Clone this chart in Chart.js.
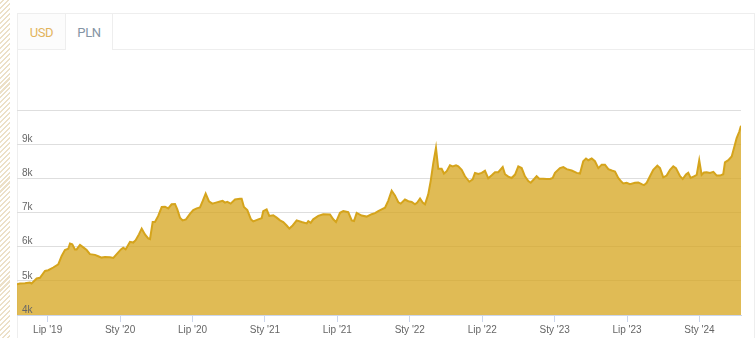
<!DOCTYPE html>
<html>
<head>
<meta charset="utf-8">
<script src="https://cdn.jsdelivr.net/npm/chart.js@4.4.0/dist/chart.umd.min.js"></script>
<style>
  html, body { margin:0; padding:0; background:#fff; width:756px; height:338px; overflow:hidden; font-family:Roboto, Arial, sans-serif; }
  .hatch { position:absolute; left:0; top:0; width:10px; height:338px;
           background:repeating-linear-gradient(135deg, #fff 0, #fff 2px, #ece0c8 2px, #ece0c8 3.5px); }
  .card { position:absolute; left:17px; top:13px; width:736px; height:340px; border:1px solid #eee; border-bottom:none; }
  .tabs { display:flex; height:36px; }
  .tab { box-sizing:border-box; height:36px; line-height:37px; font-size:13px; letter-spacing:-0.4px; text-align:center; border-right:1px solid #eee; }
  .tab.usd { width:48px; color:#e3b45c; border-bottom:1px solid #eee; background:#fcfcfc; }
  .tab.pln { width:47px; color:#8494a4; }
  .tab.rest { flex:1; border-right:none; border-bottom:1px solid #eee; }
  .wrap { position:absolute; left:17px; top:50px; width:737px; height:288px; }
</style>
</head>
<body>
<div class="hatch"></div>
<div class="card">
  <div class="tabs">
    <div class="tab usd">USD</div>
    <div class="tab pln">PLN</div>
    <div class="tab rest"></div>
  </div>
</div>
<div class="wrap"><canvas id="goldChart"></canvas></div>

<script>
// x = months since Jan 2019 (6 = Jul '19, 12 = Jan '20 ...), y = price in PLN
const months = [
  3.46, 3.70, 4.12, 4.53, 4.67, 5.09, 5.36, 5.78, 6.05, 6.46,
  6.88, 7.16, 7.43, 7.71, 7.85, 8.04, 8.26, 8.40, 8.68, 8.95,
  9.23, 9.50, 9.92, 10.19, 10.47, 10.75, 11.16, 11.44, 11.72, 12.07,
  12.26, 12.46, 12.82, 13.09, 13.29, 13.56, 13.79, 14.06, 14.33, 14.48,
  14.70, 14.89, 15.16, 15.45, 15.72, 15.99, 16.27, 16.55, 16.74, 16.96,
  17.18, 17.46, 17.79, 18.06, 18.35, 18.62, 18.84, 19.09, 19.36, 19.64,
  19.94, 20.28, 20.50, 20.69, 20.88, 21.16, 21.52, 21.93, 22.07, 22.26,
  22.54, 22.84, 23.03, 23.45, 23.73, 23.86, 24.14, 24.36, 24.69, 24.97,
  25.25, 25.52, 25.80, 26.02, 26.30, 26.63, 27.04, 27.46, 27.59, 27.79,
  28.00, 28.42, 28.83, 29.39, 29.66, 29.89, 30.22, 30.49, 30.90, 31.19,
  31.38, 31.60, 32.01, 32.43, 32.84, 33.12, 33.39, 33.67, 33.95, 34.22,
  34.50, 34.77, 35.05, 35.25, 35.60, 35.88, 36.16, 36.43, 36.62, 36.85,
  37.07, 37.26, 37.53, 37.73, 37.95, 38.17, 38.36, 38.64, 38.83, 39.06,
  39.33, 39.55, 39.83, 40.02, 40.30, 40.57, 40.93, 41.21, 41.40, 41.68,
  41.96, 42.23, 42.50, 42.79, 43.06, 43.33, 43.70, 43.89, 44.16, 44.44,
  44.72, 44.99, 45.27, 45.54, 45.82, 46.02, 46.23, 46.51, 46.73, 47.06,
  47.34, 47.62, 47.84, 48.03, 48.44, 48.72, 49.00, 49.41, 49.83, 50.10,
  50.37, 50.60, 50.79, 51.07, 51.34, 51.62, 51.90, 52.17, 52.45, 52.73,
  53.00, 53.27, 53.56, 53.69, 53.97, 54.24, 54.66, 54.93, 55.21, 55.40,
  55.63, 55.90, 56.17, 56.51, 56.73, 57.00, 57.28, 57.56, 57.83, 58.05,
  58.39, 58.61, 58.88, 59.07, 59.27, 59.55, 59.77, 59.98, 60.18, 60.37,
  60.60, 60.87, 61.15, 61.43, 61.70, 61.97, 62.11, 62.39, 62.67, 62.86,
  63.08, 63.30, 63.44
];
const pricesPln = [
  4900, 4920, 4930, 4950, 4920, 5070, 5090, 5290, 5310, 5390,
  5480, 5730, 5900, 5940, 6090, 6070, 5920, 5920, 6050, 5980,
  5900, 5780, 5760, 5720, 5680, 5700, 5690, 5670, 5780, 5920,
  5970, 5920, 6140, 6120, 6190, 6360, 6530, 6360, 6240, 6220,
  6720, 6720, 6900, 7160, 7170, 7120, 7240, 7250, 7090, 6850,
  6770, 6800, 6960, 7070, 7120, 7150, 7330, 7550, 7330, 7260,
  7290, 7320, 7340, 7290, 7310, 7260, 7380, 7400, 7400, 7160,
  7070, 6800, 6740, 6800, 6830, 7040, 7090, 6900, 6920, 6850,
  6770, 6720, 6620, 6530, 6620, 6770, 6720, 6680, 6750, 6700,
  6800, 6900, 6950, 6940, 6800, 6720, 6990, 7040, 7010, 6770,
  6750, 6990, 6910, 6880, 6950, 6980, 7040, 7090, 7140, 7350,
  7640, 7500, 7300, 7260, 7380, 7330, 7310, 7240, 7290, 7410,
  7290, 7240, 7530, 7920, 8450, 8890, 8280, 8280, 8140, 8210,
  8380, 8350, 8380, 8350, 8250, 8060, 7900, 7970, 8160, 8130,
  8160, 8220, 8000, 8090, 8180, 8180, 8330, 8120, 8050, 8010,
  8110, 8350, 8300, 8060, 7920, 7870, 7950, 8060, 7990, 7990,
  7980, 7980, 8010, 8160, 8300, 8330, 8270, 8230, 8160, 8140,
  8500, 8580, 8530, 8580, 8500, 8300, 8400, 8400, 8270, 8230,
  8200, 8010, 7890, 7850, 7870, 7830, 7870, 7880, 7830, 7800,
  7870, 8060, 8250, 8370, 8300, 8030, 8080, 8250, 8350, 8300,
  8060, 7980, 8110, 8160, 8010, 8060, 8100, 8530, 8100, 8170,
  8180, 8160, 8190, 8080, 8080, 8120, 8470, 8530, 8640, 8890,
  9180, 9370, 9540
];
const tickMonths = [6, 12, 18, 24, 30, 36, 42, 48, 54, 60];
const tickLabels = ["Lip '19", "Sty '20", "Lip '20", "Sty '21", "Lip '21", "Sty '22", "Lip '22", "Sty '23", "Lip '23", "Sty '24"];

const axisFont = { family: "'Liberation Sans', Arial, sans-serif", size: 10 };

new Chart(document.getElementById('goldChart'), {
    type: 'line',
    data: {
        datasets: [{
            label: 'PLN',
            data: months.map((m, i) => ({ x: m, y: pricesPln[i] })),
            borderColor: '#d5a41c',
            backgroundColor: 'rgba(213,164,28,0.75)',
            borderWidth: 2,
            pointRadius: 0,
            tension: 0,
            fill: 'start'
        }]
    },
    options: {
        responsive: true, maintainAspectRatio: false, animation: false,
        layout: { padding: { top: 60, right: 13, left: 0, bottom: 0 } },
        plugins: { legend: { display: false }, tooltip: { enabled: false } },
        scales: {
            x: {
                type: 'linear', min: 3.46, max: 63.44,
                afterBuildTicks: axis => { axis.ticks = tickMonths.map(v => ({ value: v })); },
                grid: { drawOnChartArea: false, drawTicks: true, tickLength: 7, color: '#ccd6eb' },
                border: { color: '#ccd6eb' },
                ticks: { font: axisFont, color: '#666', padding: 2, maxRotation: 0, autoSkip: false,
                         callback: v => tickLabels[tickMonths.indexOf(v)] }
            },
            y: {
                min: 4000, max: 10000,
                afterFit: axis => { axis.width = 0; },
                // grid under the translucent area, labels above it
                grid: { color: '#dedede', drawTicks: false, z: -1 },
                border: { display: false },
                ticks: { z: 1, stepSize: 1000, mirror: true, padding: 5, labelOffset: -5, font: axisFont, color: '#666',
                         callback: v => v >= 10000 ? '' : (v / 1000) + 'k' }
            }
        }
    }
});
</script>
</body>
</html>
